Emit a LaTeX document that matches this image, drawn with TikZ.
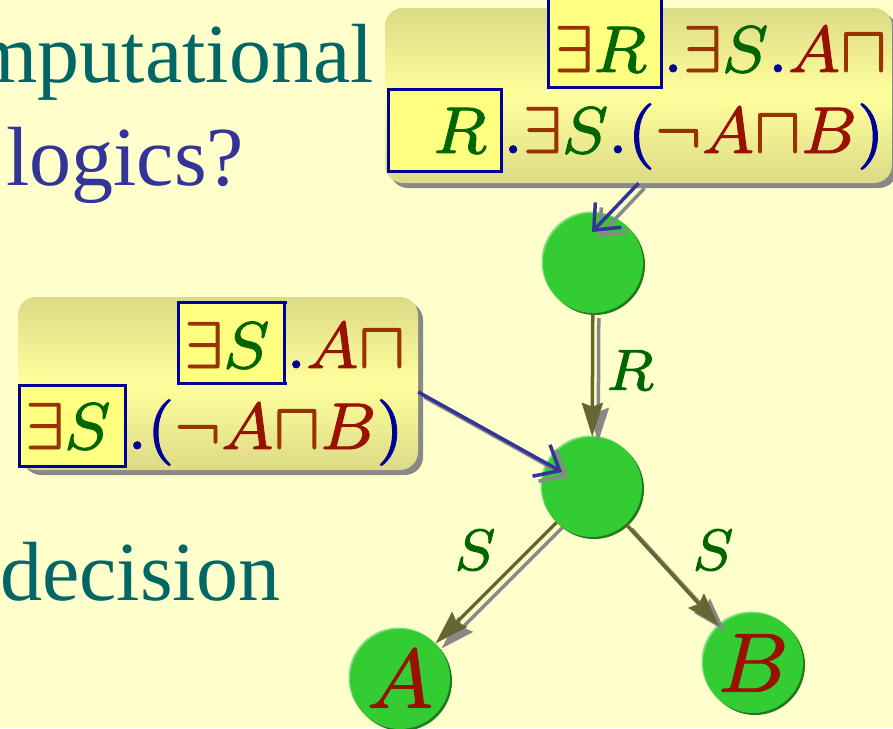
\RequirePackage{fix-cm}
\documentclass[tikz,border=0pt]{standalone}
\usepackage[no-math]{fontspec}
\setmainfont{Liberation Serif}
\usepackage{amsmath}
\usepackage{amssymb}
\usetikzlibrary{positioning,arrows.meta,shadows,calc}
% one small design size for all math, scaled up
\DeclareFontShape{OML}{cmm}{m}{it}{<->cmmi8}{\skewchar\font'177}
\DeclareFontShape{OMS}{cmsy}{m}{n}{<->cmsy8}{\skewchar\font'60}
\DeclareFontShape{OT1}{cmr}{m}{n}{<->cmr8}{}

\definecolor{slidebg}{HTML}{FFFFCC}
\definecolor{headteal}{HTML}{006666}
\definecolor{headblue}{HTML}{333399}
\definecolor{boxdark}{HTML}{DCDA86}
\definecolor{boxlight}{HTML}{FFFF9C}
\definecolor{hlfill}{HTML}{FFFF80}
\definecolor{hlborder}{HTML}{000099}
\definecolor{excol}{HTML}{993300}
\definecolor{rolecol}{HTML}{006600}
\definecolor{conccol}{HTML}{991100}
\definecolor{nodegreen}{HTML}{33CC33}
\definecolor{nodedark}{HTML}{1F7A1F}
\definecolor{nodelight}{HTML}{80E080}
\definecolor{edgeolive}{HTML}{666633}
\definecolor{hintblue}{HTML}{333399}
\definecolor{shadegray}{HTML}{888888}

% slightly heavier glyphs (fill and stroke)
\newcommand{\inkbold}{\special{pdf:literal 2 Tr 0.9 w}}
\newcommand{\cex}{{\color{excol}\exists}}
\newcommand{\cand}{{\color{excol}\sqcap}}
\newcommand{\cneg}{{\color{excol}\neg}}
\newcommand{\crole}[1]{{\color{rolecol}#1}}
\newcommand{\cconc}[1]{{\color{conccol}#1}}
\newcommand{\hlbox}[3]{{\setlength{\fboxsep}{0pt}\setlength{\fboxrule}{3pt}%
  \fcolorbox{hlborder}{hlfill}{\rule[-#2]{0pt}{\dimexpr#1+#2\relax}\hspace{4pt}$#3$\hspace{14pt}}}}

\tikzset{
  slidetext/.style={inner sep=0pt, font=\fontsize{84}{100}\selectfont},
  concbox/.style={rounded corners=18pt, top color=boxdark, bottom color=boxdark,
    middle color=boxlight, inner sep=0pt,
    drop shadow={shadow xshift=5pt, shadow yshift=-5pt, fill=shadegray, opacity=1}},
  formula/.style={inner sep=0pt, text=hlborder, font=\fontsize{66}{80}\selectfont\inkbold},
  vertex/.style={circle, fill=nodegreen, minimum size=100pt, inner sep=0pt,
    text=conccol, font=\fontsize{84}{100}\selectfont\inkbold,
    general shadow={shadow xshift=-1.5pt, shadow yshift=1.5pt, fill=nodelight},
    drop shadow={shadow xshift=2pt, shadow yshift=-2pt, fill=nodedark, opacity=1}},
  rel/.style={draw=edgeolive, line width=3.5pt,
    -{Stealth[length=34pt, width=21pt, inset=4pt]}},
  relshade/.style={rel, draw=shadegray, transform canvas={shift={(6pt,-5pt)}}},
  hint/.style={draw=hintblue, line width=3.5pt,
    -{Straight Barb[length=21pt, width=36pt]}},
  hintshade/.style={hint, draw=shadegray, transform canvas={shift={(6pt,-5pt)}}},
  elabel/.style={inner sep=0pt, text=rolecol, font=\fontsize{58}{70}\selectfont\inkbold}
}

\begin{document}
\begin{tikzpicture}[x=1pt, y=-1pt]
\useasboundingbox (0,0) rectangle (893,728);
\clip (0,0) rectangle (893,728);
\fill[slidebg] (0,0) rectangle (893,728);

% slide text behind the boxes
\node[slidetext, text=headteal, anchor=base east] (comput) at (374,82) {mputational};
\node[slidetext, text=headblue, anchor=base west] (logics) at (6,185) {logics?};
\node[slidetext, text=headteal, anchor=base west] (decision) at (0,600) {decision};

% the two concept boxes
\node[concbox, minimum width=507pt, minimum height=175pt] (topbox) at (638.5,95.5) {};
\node[formula, anchor=base west] (topline1) at (547,72)
  {$\hlbox{80pt}{14pt}{\cex\crole{R}}.\cex\crole{S}.\cconc{A}\cand$};
\node[formula, anchor=base west] (topline2) at (387,153)
  {$\hlbox{62pt}{17pt}{\phantom{\exists}\crole{R}}.\cex\crole{S}.(\cneg\cconc{A}\cand\cconc{B})$};

\node[concbox, minimum width=400pt, minimum height=173pt] (leftbox) at (218,383.5) {};
\node[formula, anchor=base west] (leftline1) at (177,368)
  {$\hlbox{64pt}{14pt}{\cex\crole{S}}.\cconc{A}\cand$};
\node[formula, anchor=base west] (leftline2) at (18,449)
  {$\hlbox{62pt}{16pt}{\cex\crole{S}}.(\cneg\cconc{A}\cand\cconc{B})$};

% the model
\node[vertex] (top) at (593,263) {};
\node[vertex] (mid) at (592,487) {};
\node[vertex] (leafA) at (400,679) {$A$};
\node[vertex] (leafB) at (753,663) {$B$};

\foreach \a/\b in {top/mid, mid/leafA, mid/leafB}{
  \draw[relshade] (\a) -- (\b);
  \draw[rel] (\a) -- (\b);
}
\node[elabel] (labR) at (630,370) {$R$};
\node[elabel] (labSa) at (475,550) {$S$};
\node[elabel] (labSb) at (713,550) {$S$};

% pointers from the boxes
\coordinate (topend) at ([xshift=-1pt, yshift=31pt]top.center);
\coordinate (midend) at ([xshift=-30pt, yshift=15pt]mid.center);
\draw[hintshade] (topbox.south) -- (topend);
\draw[hint] (topbox.south) -- (topend);
\draw[hintshade] ([yshift=-8.5pt]leftbox.east) -- (midend);
\draw[hint] ([yshift=-8.5pt]leftbox.east) -- (midend);
\end{tikzpicture}
\end{document}
